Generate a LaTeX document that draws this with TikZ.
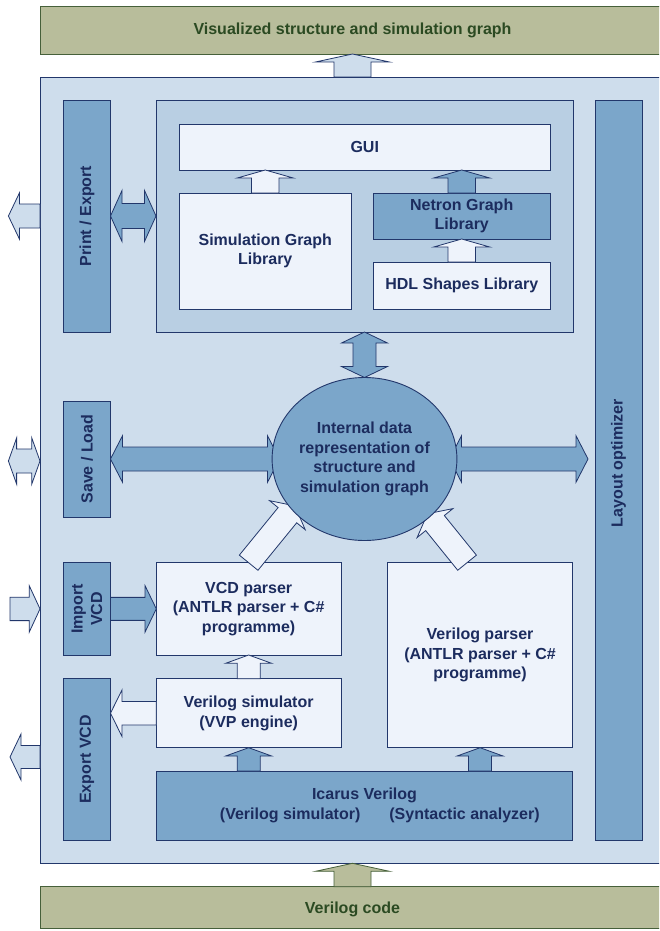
\documentclass[tikz,border=0pt]{standalone}
\usepackage{fontspec}
\setmainfont{Liberation Sans}
\usetikzlibrary{calc,shapes.geometric}
\definecolor{outerfill}{HTML}{CEDDEC}
\definecolor{innerfill}{HTML}{B9CFE3}
\definecolor{midfill}{HTML}{7BA6CA}
\definecolor{lightfill}{HTML}{EEF3FB}
\definecolor{olivefill}{HTML}{B8BD9B}
\definecolor{navyline}{HTML}{22376B}
\definecolor{greenline}{HTML}{46603A}
\definecolor{navytext}{HTML}{1C2C5E}
\definecolor{greentext}{HTML}{2B4A22}
\newcommand\sarr[6]{%
 \coordinate (tC) at ($(#3)!#6!(#2)$);
 \draw[#1] ($(#2)!#4!90:(#3)$) -- ($(tC)!#4!90:(#3)$) -- ($(tC)!#5!90:(#3)$) -- (#3)
  -- ($(tC)!#5!-90:(#3)$) -- ($(tC)!#4!-90:(#3)$) -- ($(#2)!#4!-90:(#3)$) -- cycle;}
\newcommand\darr[6]{%
 \coordinate (tC) at ($(#3)!#6!(#2)$);
 \coordinate (tD) at ($(#2)!#6!(#3)$);
 \draw[#1] (#2) -- ($(tD)!#5!90:(#3)$) -- ($(tD)!#4!90:(#3)$) -- ($(tC)!#4!90:(#3)$)
  -- ($(tC)!#5!90:(#3)$) -- (#3) -- ($(tC)!#5!-90:(#3)$) -- ($(tC)!#4!-90:(#3)$)
  -- ($(tD)!#4!-90:(#3)$) -- ($(tD)!#5!-90:(#3)$) -- cycle;}
\begin{document}
\begin{tikzpicture}[x=1pt,y=-1pt,
  box/.style={draw=navyline, line width=0.9pt, inner sep=0pt, outer sep=0pt, anchor=north west},
  olivebox/.style={box, draw=greenline, fill=olivefill},
  outerbox/.style={box, fill=outerfill},
  innerbox/.style={box, fill=innerfill},
  midbox/.style={box, fill=midfill},
  lightbox/.style={box, fill=lightfill},
  lbl/.style={font=\bfseries\fontsize{16}{19.5}\selectfont, text=navytext, align=center},
  glbl/.style={lbl, text=greentext},
  arr/.style={draw=navyline, line width=0.8pt, line join=miter},
  arrlight/.style={arr, fill=lightfill},
  arrmid/.style={arr, fill=midfill},
  arrouter/.style={arr, fill=outerfill},
  arrolive/.style={arr, draw=greenline, fill=olivefill}]
\useasboundingbox (0,0) rectangle (659,931);
\clip (0,0) rectangle (659,931);
\fill[white] (0,0) rectangle (659,931);

% frame boxes
\node[olivebox, minimum width=700pt, minimum height=48pt] (topbox) at (40,6) {};
\node[glbl] (toptext) at (352.5,30) {Visualized structure and simulation graph};
\node[outerbox, minimum width=700pt, minimum height=786.3pt] (outer) at (40,77) {};
\node[olivebox, minimum width=700pt, minimum height=42pt] (codebox) at (40,886.7) {};
\node[glbl] (codetext) at (352.5,909) {Verilog code};

% side bars
\node[midbox, minimum width=47pt, minimum height=232pt] (printbar) at (63.5,100) {};
\node[lbl, rotate=90] at (printbar.center) {Print / Export};
\node[midbox, minimum width=47pt, minimum height=116pt] (savebar) at (63.5,401) {};
\node[lbl, rotate=90] at (savebar.center) {Save / Load};
\node[midbox, minimum width=47pt, minimum height=92.3pt] (importbar) at (63.5,562.7) {};
\node[lbl, rotate=90] at (importbar.center) {Import\\VCD};
\node[midbox, minimum width=47pt, minimum height=161.3pt] (exportbar) at (63.5,678.7) {};
\node[lbl, rotate=90] at (exportbar.center) {Export VCD};
\node[midbox, minimum width=47pt, minimum height=740pt] (layout) at (595,100) {};
\node[lbl, rotate=90] at ($(layout.center)+(0,-7)$) {Layout optimizer};

% upper group
\node[innerbox, minimum width=417pt, minimum height=232pt] (inner) at (156,100) {};
\node[lightbox, lbl, minimum width=370.5pt, minimum height=46pt] (gui) at (179.5,124) {GUI};
\node[lightbox, lbl, minimum width=171.5pt, minimum height=116pt] (simlib) at (179.5,193) {Simulation Graph\\Library};
\node[midbox, lbl, minimum width=176.5pt, minimum height=46pt] (netron) at (373.5,193) {Netron Graph\\Library};
\node[lightbox, lbl, minimum width=176.5pt, minimum height=47pt] (hdl) at (373.5,262) {HDL Shapes Library};

% lower group
\node[lightbox, lbl, minimum width=184.7pt, minimum height=92.3pt] (vcd) at (156.3,562.7) {VCD parser\\(ANTLR parser + C\#\\programme)};
\node[lightbox, lbl, minimum width=185.3pt, minimum height=185pt] (vparser) at (387.4,562.7) {Verilog parser\\(ANTLR parser + C\#\\programme)};
\node[lightbox, lbl, minimum width=184.7pt, minimum height=69pt] (vsim) at (156.3,678.7) {Verilog simulator\\(VVP engine)};
\node[midbox, lbl, minimum width=416.4pt, minimum height=69pt] (icarus) at (156.3,771) {Icarus Verilog\\\hspace*{30.6pt}(Verilog simulator)\hspace{29pt}(Syntactic analyzer)};

% circle shape (for anchors)
\path node[ellipse, minimum width=170pt, minimum height=163pt, inner sep=0pt, outer sep=0pt] (circ) at (364.5,459) {};

% free ends
\coordinate (peOut) at (8.4,216);
\coordinate (slOut) at (8.4,461);
\coordinate (ivIn) at (10,608.9);
\coordinate (evOut) at (10,757);
\coordinate (loEnd) at ($(layout.west |- circ.east)+(-7,0)$);

% arrows
\sarr{arrouter}{352.5,0 |- outer.north}{352.5,0 |- topbox.south}{18.5pt}{37pt}{8pt}
\sarr{arrolive}{352.5,0 |- codebox.north}{352.5,0 |- outer.south}{18.5pt}{37pt}{8pt}
\sarr{arrlight}{simlib.north}{simlib.north |- gui.south}{13.75pt}{28pt}{8pt}
\sarr{arrmid}{netron.north}{netron.north |- gui.south}{13.75pt}{28pt}{8pt}
\sarr{arrlight}{hdl.north}{netron.south}{13.75pt}{28pt}{8pt}
\darr{arrmid}{printbar.east}{printbar.east -| inner.west}{12.5pt}{25.5pt}{11.5pt}
\sarr{arrouter}{outer.west |- peOut}{peOut}{12pt}{23pt}{11pt}
\darr{arrmid}{inner.south}{circ.north}{11.5pt}{23pt}{11pt}
\darr{arrmid}{savebar.east}{circ.west}{12pt}{23.3pt}{12pt}
\darr{arrmid}{circ.east}{loEnd}{12pt}{23.3pt}{12pt}
\darr{arrouter}{slOut}{outer.west |- slOut}{12pt}{23pt}{8.2pt}
\sarr{arrouter}{ivIn}{outer.west |- ivIn}{11.7pt}{23.3pt}{10.8pt}
\sarr{arrmid}{importbar.east}{vcd.west}{11.5pt}{23.3pt}{11.3pt}
\sarr{arrlight}{vcd.north}{circ.214}{12pt}{23pt}{12pt}
\sarr{arrlight}{$(vparser.north)+(-13,0)$}{circ.319}{12pt}{23pt}{12pt}
\sarr{arrlight}{vsim.north}{vcd.south}{11.5pt}{23pt}{8.3pt}
\sarr{arrlight}{vsim.west}{vsim.west -| exportbar.east}{11.8pt}{23.3pt}{11.5pt}
\sarr{arrouter}{outer.west |- evOut}{evOut}{11.5pt}{23pt}{11pt}
\sarr{arrmid}{icarus.north -| vsim.north}{vsim.south}{11.5pt}{23pt}{8.3pt}
\sarr{arrmid}{icarus.north -| vparser.north}{vparser.south}{11.5pt}{23pt}{8.3pt}

% circle drawn on top
\node[ellipse, draw=navyline, line width=0.9pt, fill=midfill, lbl, minimum width=170pt, minimum height=163pt, inner sep=0pt] (circtext) at (circ.center) {Internal data\\representation of\\structure and\\simulation graph};
\end{tikzpicture}
\end{document}
